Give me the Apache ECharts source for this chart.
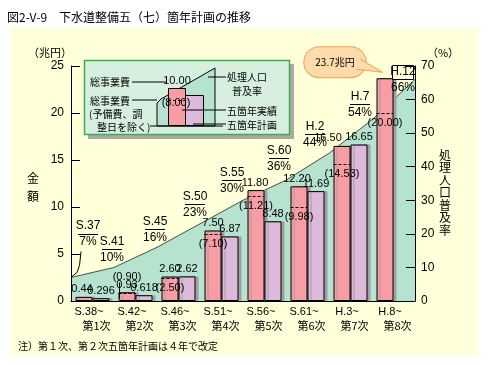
<!DOCTYPE html>
<html><head><meta charset="utf-8">
<script src="https://cdn.jsdelivr.net/npm/echarts@6/dist/echarts.min.js"></script>
<style>html,body{margin:0;padding:0;background:#fff}#c{width:488px;height:365px}</style>
</head><body><div id="c"></div>
<script>
// ---- data ----
const periods = ['S.38~','S.42~','S.46~','S.51~','S.56~','S.61~','H.3~','H.8~'];
const planNames = ['第1次','第2次','第3次','第4次','第5次','第6次','第7次','第8次'];
const totalCost = [0.44, 0.93, 2.60, 7.50, 11.80, 12.20, 16.50, 23.7];
const costExReserve = [null, 0.90, 2.50, 7.10, 11.21, 9.98, 14.53, 20.00];
const actual = [0.296, 0.618, 2.62, 6.87, 8.48, 11.69, 16.65, null];
const rateYears = ['S.37','S.41','S.45','S.50','S.55','S.60','H.2','H.7','H.12'];
const rateValues = [7, 10, 16, 23, 30, 36, 44, 54, 66];

// ---- styles ----
const JP = "'Noto Sans CJK JP', sans-serif";
const NUM = "'Liberation Sans Narrow', 'Liberation Sans', sans-serif";
const PINK = '#F99DA5', PURPLE = '#DDB9DC', GREEN = '#B5E3D0', PANEL = '#FFFFDA';
const BUBBLE = '#FDDBAA', BUBBLE_EDGE = '#F0A050';
const rateDx = [17, -2, -2, -5, -11, -7, -14, -12, -12];
const rateDy = [-25, 1, 1, -1, -1, -3, 0, 3, 19];
const dashAbove = [false, true, false, false, false, false, false, false];
const pinkLabelDx = [-2, 0, 0, 0, -1, -2, -14, 0];
const LAST = totalCost.length - 1;
const GRID = {left: 71, right: 73, top: 66, bottom: 64};

const chart = echarts.init(document.getElementById('c'), null, {renderer: 'canvas'});

function txt(text, x, y, opt) {
  opt = opt || {};
  return {type: 'text', z: opt.z || 100, style: {
    text: text, x: x, y: y, fill: '#000',
    fontSize: opt.size || 10, fontFamily: opt.font || JP,
    align: opt.align || 'left', verticalAlign: opt.va || 'middle',
    textAlign: opt.align || 'left', textVerticalAlign: opt.va || 'middle',
    lineHeight: opt.lh || undefined
  }};
}
function ln(x1, y1, x2, y2, dash) {
  return {type: 'line', z: 101, shape: {x1: x1, y1: y1, x2: x2, y2: y2},
    style: {stroke: '#000', lineWidth: 1, lineDash: dash || null}};
}
function seg(x1, y1, x2, y2) {
  return {type: 'line', shape: {x1: x1, y1: y1, x2: x2, y2: y2}, style: {stroke: '#000', lineWidth: 1}};
}
function ctext(text, x, y, size, font) {
  return {type: 'text', style: {text: text, x: x, y: y, fill: '#000', fontSize: size || 12, fontFamily: font || NUM,
    align: 'center', verticalAlign: 'middle', textAlign: 'center', textVerticalAlign: 'middle'}};
}

const graphics = [
  {type: 'rect', z: -10, shape: {x: 10, y: 28, width: 468, height: 327}, style: {fill: PANEL}},
  txt('図2-V-9　下水道整備五（七）箇年計画の推移', 7, 17, {size: 12}),
  txt('（兆円）', 50, 53, {align: 'center', size: 11}),
  txt('（%）', 443, 53, {align: 'center', size: 11}),
  txt('金', 33, 178, {align: 'center', size: 12}),
  txt('額', 33, 196, {align: 'center', size: 12}),
  txt('処\n理\n人\n口\n普\n及\n率', 445, 149, {align: 'center', va: 'top', size: 12, lh: 12.5}),
  txt('注）第１次、第２次五箇年計画は４年で改定', 18, 346, {size: 10}),
  // legend box
  {type: 'rect', z: 98, shape: {x: 88, y: 64, width: 206, height: 75}, style: {fill: '#A9A9A9'}},
  {type: 'rect', z: 99, shape: {x: 84.5, y: 60.5, width: 205, height: 74}, style: {fill: '#D7EFDF', stroke: '#3DAE4A', lineWidth: 1.5}},
  {type: 'polygon', z: 100, shape: {points: [[157,126],[157,103],[161,99],[215,68],[215,126]]}, style: {fill: GREEN, stroke: '#000', lineWidth: 1}},
  {type: 'rect', z: 101, shape: {x: 168.5, y: 88.5, width: 17, height: 37}, style: {fill: PINK, stroke: '#000', lineWidth: 1}},
  {type: 'rect', z: 101, shape: {x: 185.5, y: 95.5, width: 18, height: 30}, style: {fill: PURPLE, stroke: '#000', lineWidth: 1}},
  ln(168, 100.5, 185, 100.5, [3, 2]),
  ln(150, 126, 223, 126),
  ln(132, 82, 166, 82),
  ln(132, 100, 157, 100),
  ln(208, 77, 226, 77),
  ln(182, 110, 226, 110),
  ln(193, 124, 226, 124),
  txt('総事業費', 90, 82),
  txt('10.00', 177, 81, {align: 'center', font: NUM, size: 11}),
  txt('総事業費', 90, 101),
  txt('(予備費、調', 89, 114),
  txt('整日を除く)', 97, 127),
  txt('(8.00)', 176, 103, {align: 'center', font: NUM, size: 11, z: 102}),
  txt('処理人口', 227, 77),
  txt('普及率', 232, 91),
  txt('五箇年実績', 227, 111),
  txt('五箇年計画', 227, 125)
];

// callout tail: placed from the grid band of the last category (decoration only)
(function () {
  const plotW = 488 - GRID.left - GRID.right, plotH = 365 - GRID.top - GRID.bottom;
  const bx = GRID.left + (LAST + 0.5) * plotW / periods.length;
  const by = GRID.top + plotH * (1 - totalCost[LAST] / 25);
  const a = [bx - 37, by - 9], b = [bx - 33, by - 19], tip = [bx - 11, by - 6];
  graphics.push({type: 'polygon', z: 96, shape: {points: [a, b, tip]}, style: {fill: BUBBLE}});
  graphics.push({type: 'polyline', z: 97, shape: {points: [b, tip, a]}, style: {stroke: BUBBLE_EDGE, lineWidth: 1, fill: null}});
})();

const pinkData = totalCost.map(function (v, i) {
  const item = {value: v, label: {offset: [pinkLabelDx[i], 0]}};
  if (i === LAST) {
    item.label = {
      formatter: '23.7兆円', offset: [-50, 1], fontFamily: JP, fontSize: 10,
      backgroundColor: BUBBLE, borderColor: BUBBLE_EDGE, borderWidth: 1,
      borderRadius: 15, padding: [10, 11]
    };
  }
  return item;
});

const dashData = [];
costExReserve.forEach(function (v, i) { if (v != null) dashData.push([i, v]); });
const ratePoints = rateValues.map(function (v, i) { return [i, v]; });

const option = {
  animation: false,
  backgroundColor: '#fff',
  textStyle: {fontFamily: NUM},
  graphic: {elements: graphics},
  grid: GRID,
  xAxis: [
    {type: 'category', data: periods, z: 10,
     axisLine: {lineStyle: {color: '#000', width: 1}}, axisTick: {show: false},
     axisLabel: {margin: 4, interval: 0, color: '#000',
       formatter: function (v, i) { return '{a|' + v + '}\n{b|' + planNames[i] + '}'; },
       rich: {a: {fontSize: 11, fontFamily: "'Liberation Sans', sans-serif", lineHeight: 14, padding: [0, 7, 0, 0]},
              b: {fontSize: 11, fontFamily: JP, lineHeight: 14, padding: [0, 0, 0, 8]}}}},
    {type: 'category', data: rateYears, boundaryGap: false, show: false}
  ],
  yAxis: [
    {type: 'value', min: 0, max: 25, interval: 5, z: 10,
     axisLine: {show: true, lineStyle: {color: '#000'}},
     axisTick: {show: true, inside: true, length: 9, lineStyle: {color: '#000'}},
     splitLine: {show: false},
     axisLabel: {color: '#000', fontSize: 12, margin: 7, fontFamily: "'Liberation Sans', sans-serif"}},
    {type: 'value', min: 0, max: 70, interval: 10, position: 'right', z: 10,
     axisLine: {show: true, lineStyle: {color: '#000'}},
     axisTick: {show: true, inside: true, length: 9, lineStyle: {color: '#000'}},
     splitLine: {show: false},
     axisLabel: {color: '#000', fontSize: 12, margin: 6, fontFamily: "'Liberation Sans', sans-serif"}}
  ],
  series: [
    // filled area of the diffusion rate (under the bars)
    {type: 'line', name: '処理人口普及率', xAxisIndex: 1, yAxisIndex: 1, z: 1,
     data: rateValues, symbol: 'none',
     lineStyle: {color: '#222', width: 0.8},
     areaStyle: {color: GREEN, opacity: 1}},
    // year / rate labels of the diffusion rate, drawn above the bars
    {type: 'custom', name: '処理人口普及率ラベル', xAxisIndex: 1, yAxisIndex: 1, z: 8, clip: false,
     data: ratePoints, encode: {x: 0, y: 1},
     renderItem: function (params, api) {
       const i = params.dataIndex;
       const p = api.coord([api.value(0), api.value(1)]);
       const cx = p[0] + rateDx[i];
       const yb = p[1] - 5 + rateDy[i];
       const children = [];
       if (i === rateYears.length - 1) {
         children.push({type: 'rect', shape: {x: Math.round(cx - 11) + 0.5, y: Math.round(yb - 28) + 0.5, width: 21, height: 14},
           style: {fill: PANEL, stroke: '#000', lineWidth: 1}});
       } else {
         const ly = Math.round(yb - 14) + 0.5;
         children.push(seg(cx - 10, ly, cx + 10, ly));
       }
       children.push(ctext(rateYears[i], cx, yb - 21.5, 12));
       children.push(ctext(api.value(1) + '%', cx, yb - 5.5, 12));
       if (i === 0) {
         const tx = cx - 7, ty = yb + 4;
         children.push(seg(p[0] + 1, p[1] - 1, p[0] + 6, p[1] - 5));
         children.push(seg(p[0] + 6, p[1] - 5, p[0] + 8.5, p[1] - 12));
         children.push(seg(p[0] + 8.5, p[1] - 12, tx, ty));
       }
       return {type: 'group', children: children};
     }},
    {type: 'bar', name: '総事業費', data: pinkData, barWidth: 17, barGap: '0%', z: 2,
     itemStyle: {color: PINK, borderColor: '#000', borderWidth: 1,
                 shadowColor: '#A0A0A0', shadowOffsetX: 3, shadowBlur: 0},
     label: {show: true, position: 'top', distance: 2, color: '#000', fontSize: 11, fontFamily: NUM,
             formatter: function (p) { return p.value.toFixed(2); }}},
    {type: 'bar', name: '五箇年実績', data: actual, barWidth: 17, barGap: '0%', z: 2,
     itemStyle: {color: PURPLE, borderColor: '#000', borderWidth: 1,
                 shadowColor: '#A0A0A0', shadowOffsetX: 3, shadowBlur: 0},
     label: {show: true, position: 'top', distance: 2, color: '#000', fontSize: 11, fontFamily: NUM,
             formatter: function (p) { return String(p.value); }}},
    {type: 'custom', name: '総事業費（予備費、調整費を除く）', z: 5, data: dashData,
     encode: {x: 0, y: 1},
     renderItem: function (params, api) {
       const idx = api.value(0), v = api.value(1);
       const p = api.coord([idx, v]);
       const y = Math.round(p[1]) + 0.5;
       const above = dashAbove[idx];
       const children = [
         {type: 'line', shape: {x1: p[0] - 17, y1: y, x2: p[0], y2: y},
          style: {stroke: '#000', lineWidth: 1, lineDash: [3, 2]}},
         ctext('(' + v.toFixed(2) + ')', p[0] - 8.5, above ? y - 17 : y + 9, 11)
       ];
       if (above) {
         children.push({type: 'line', shape: {x1: p[0] - 16, y1: y - 11, x2: p[0] - 16, y2: y + 5},
           style: {stroke: '#000', lineWidth: 1}});
       }
       return {type: 'group', children: children};
     }}
  ]
};
chart.setOption(option);
</script></body></html>
